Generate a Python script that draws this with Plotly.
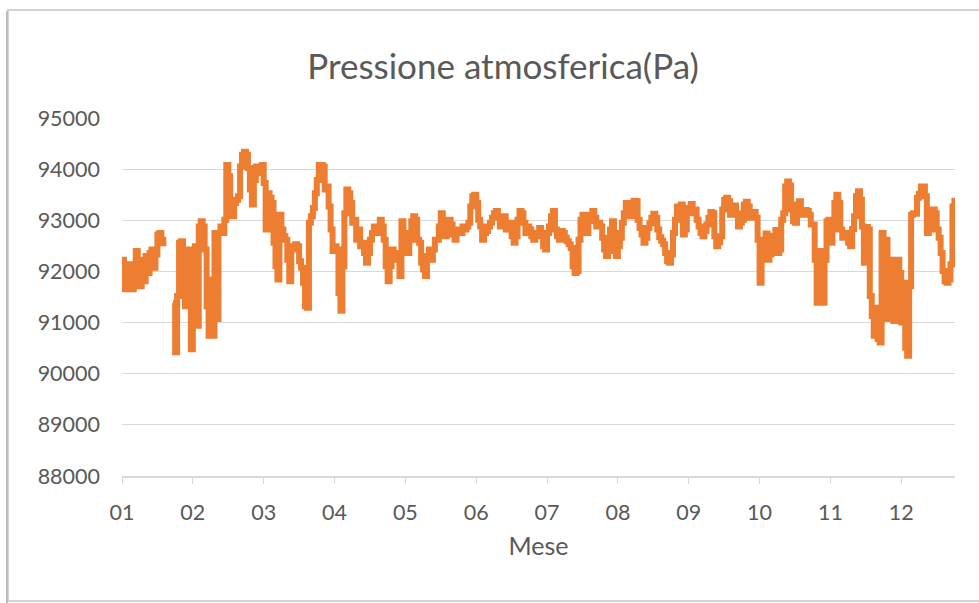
import plotly.graph_objects as go

# Pressione atmosferica (Pa), 36 campioni per mese; None = dato mancante
campioni_per_mese = 36
mesi = ["01", "02", "03", "04", "05", "06", "07", "08", "09", "10", "11", "12"]

pressione = [
    92230, 91650, 92100, 91840, 92140, 91650, 91970, 92400, 92230, 91710,
    92100, 91810, 92300, 91970, 92360, 92430, 92070, 92330, 92720, 92750,
    92620, 92490, None, None, None, None, 91390, 90420, 91520, 92560,
    92590, 92430, 91320, 92430, 91450, 90480, 91320, 92490, 90940, 92880,
    92980, 92880, 92430, 91320, 90740, 91840, 90740, 92750, 91070, 92750,
    92880, 92750, 93010, 94080, 93860, 93110, 93080, 93340, 93400, 93470,
    94050, 94280, 94340, 94280, 94020, 93600, 93310, 93790, 94050, 93920,
    94050, 94080, 93730, 92820, 93530, 93440, 93340, 92560, 92100, 91840,
    93110, 92820, 92690, 92620, 92230, 91810, 92430, 92490, 92530, 92490,
    92200, 92070, 91780, 91320, 91290, 92950, 93080, 93240, 93530, 93790,
    94080, 94080, 94050, 93600, 93660, 93270, 92820, 92400, 92490, 92430,
    91580, 91230, 92100, 93140, 93600, 93530, 93340, 92950, 93010, 92620,
    92820, 92490, 92560, 92360, 92170, 92360, 92620, 92750, 92880, 92820,
    92750, 93010, 92880, 92620, 92100, 91810, 92100, 92430, 92230, 92360,
    92300,
    91910, 92980, 92620, 92750, 92360, 92620, 92980, 93080, 93010, 92620,
    92560, 92170, 92040, 91910, 92300, 92430, 92230, 92430, 92620, 92620,
    92880, 93140, 92950, 92690, 92880, 93010, 92920, 92720, 92620, 92750,
    92820, 92750, 92880, 92820, 92880, 92950, 93270, 93470, 93500, 93340,
    93010, 92880, 92620, 92750, 92790, 92880, 92950, 93050, 93140, 93180,
    93050, 92880, 93010, 93080, 92820, 92920, 92950, 92690, 92560, 92690,
    93010, 93180, 93140, 92950, 92750, 92880, 92820, 92690, 92620, 92750,
    92690,
    92850, 92720, 92490, 92430, 92750, 92880, 93080, 93180, 92820, 92690,
    92620, 92790, 92750, 92660, 92590, 92530, 92460, 92100, 91970, 92010,
    92620, 93010, 93110, 92950, 92750, 92980, 93110, 93180, 93050, 92880,
    92950, 92880, 92660, 92430, 92300, 92400, 92820, 92980, 92750, 92300,
    92490, 92660, 92950, 93140, 93340, 93270, 93080, 93240, 93380, 93370,
    93010, 92850, 92720, 92560, 92660, 92850, 92940, 93050, 93130, 93050,
    92820, 92670, 92600, 92530, 92360, 92200, 92170, 92330, 92750, 93010,
    93270,
    93270, 93310, 92720, 92820, 93210, 93240, 93320, 93140, 93210, 93010,
    92880, 92750, 92690, 92790, 92920, 93050, 93160, 93140, 92690, 92490,
    92570, 92690, 93210, 93400, 93440, 93370, 93110, 93130, 93290, 93140,
    92880, 92950, 93010, 93310, 93360, 93270, 93050, 93080, 93160, 93050,
    92620, 91780, 92270, 92620, 92740, 92230, 92330, 92550, 92700, 92810,
    92360, 92430, 93010, 93140, 93660, 93760, 93680, 93210, 92980, 92950,
    93310, 93370, 93180, 93110, 93200, 93180, 93110, 92920, 92920, 92230,
    91390,
    92400, 91710, 91390, 92230, 92980, 93010, 92560, 92820, 93340, 93500,
    93340, 92820, 92660, 92750, 92660, 92560, 92490, 92830, 93080, 93470,
    93570, 93400, 92880, 92170, 92870, 92820, 91520, 91130, 90740, 91290,
    90680, 90610, 92750, 91200, 92620, 91070, 92230, 91520, 91030, 92100,
    92230, 91970, 91000, 91780, 90510, 90350, 91710, 93110, 93140, 93130,
    93440, 93520, 93660, 93660, 93470, 92750, 92820, 93210, 93210, 93140,
    92820, 92660, 92360, 92010, 91810, 91780, 91840, 92140, 93270, 93440,
]

campione = list(range(len(pressione)))

FONT = "Lato, 'Open Sans', sans-serif"
GRIGIO_TESTO = "#595959"
GRIGIO_GRIGLIA = "#d9d9d9"
ARANCIO = "#ED7D31"

W, H = 979, 603
L, R, T, B = 122, 24, 118, 127
pw, ph = W - L - R, H - T - B


def carta_x(px):
    return (px - L) / pw


def carta_y(py):
    return (H - B - py) / ph


fig = go.Figure()
fig.add_trace(go.Scatter(
    x=campione,
    y=pressione,
    mode="lines",
    line=dict(color=ARANCIO, width=6, shape="hv"),
    connectgaps=False,
    hoverinfo="skip",
))

fig.update_layout(
    width=W,
    height=H,
    margin=dict(l=L, r=R, t=T, b=B),
    paper_bgcolor="white",
    plot_bgcolor="white",
    showlegend=False,
    font=dict(family=FONT, color=GRIGIO_TESTO),
    title=dict(
        text="Pressione atmosferica(Pa)",
        x=503 / W, xref="container", xanchor="center",
        y=1 - 67 / H, yref="container", yanchor="middle",
        font=dict(family=FONT, size=35, color=GRIGIO_TESTO),
    ),
    shapes=[
        dict(type="rect", xref="paper", yref="paper",
             x0=carta_x(8), x1=carta_x(1005), y0=carta_y(601), y1=carta_y(10),
             line=dict(color="#d4d4d4", width=2), fillcolor="rgba(0,0,0,0)",
             layer="below"),
        dict(type="line", xref="paper", yref="paper",
             x0=carta_x(7), x1=carta_x(7), y0=carta_y(603), y1=carta_y(11),
             line=dict(color="#bdbdbd", width=2)),
    ],
)

fig.update_xaxes(
    range=[0, 423.3],
    tickvals=[k * campioni_per_mese for k in range(len(mesi))],
    ticktext=mesi,
    ticks="outside",
    ticklen=6,
    tickwidth=1.3,
    tickcolor=GRIGIO_GRIGLIA,
    showline=True,
    linecolor=GRIGIO_GRIGLIA,
    linewidth=1.5,
    showgrid=False,
    zeroline=False,
    tickfont=dict(family=FONT, size=21.5, color=GRIGIO_TESTO),
    ticklabelstandoff=10,
    title=dict(text="Mese", font=dict(family=FONT, size=25, color=GRIGIO_TESTO), standoff=14),
)

fig.update_yaxes(
    range=[88000, 95000],
    dtick=1000,
    tick0=88000,
    tickformat="d",
    showgrid=True,
    gridcolor=GRIGIO_GRIGLIA,
    gridwidth=1.3,
    showline=False,
    zeroline=False,
    ticks="",
    tickfont=dict(family=FONT, size=21.5, color=GRIGIO_TESTO),
    ticklabelstandoff=21,
)

fig.write_html("out.html")
